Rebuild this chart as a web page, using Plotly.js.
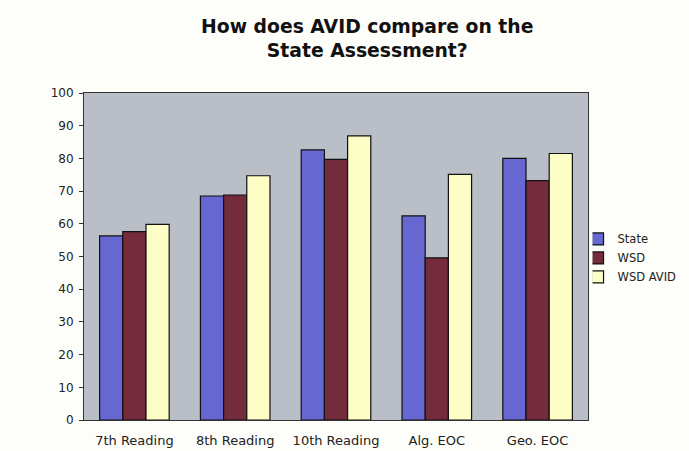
<!DOCTYPE html>
<html>
<head>
<meta charset="utf-8">
<script src="https://cdn.plot.ly/plotly-3.0.1.min.js"></script>
<style>html,body{margin:0;padding:0;background:#fdfdf9;}#chart{width:689px;height:451px;}</style>
</head>
<body>
<div id="chart"></div>
<script>
const categories = ["7th Reading", "8th Reading", "10th Reading", "Alg. EOC", "Geo. EOC"];
const stateValues = [56.3, 68.5, 82.6, 62.4, 80.0];
const wsdValues = [57.6, 68.8, 79.7, 49.6, 73.2];
const wsdAvidValues = [59.8, 74.7, 86.9, 75.1, 81.5];
const yTicks = [0, 10, 20, 30, 40, 50, 60, 70, 80, 90, 100];

const line = {color: '#111', width: 1.2};
const traces = [
  {type: 'bar', name: 'State', x: categories, y: stateValues, marker: {color: '#6767d2', line: line}},
  {type: 'bar', name: 'WSD', x: categories, y: wsdValues, marker: {color: '#742c3c', line: line}},
  {type: 'bar', name: 'WSD AVID', x: categories, y: wsdAvidValues, marker: {color: '#fdfdc6', line: line}}
];
const layout = {
  width: 689, height: 451,
  paper_bgcolor: '#fdfdf9', plot_bgcolor: '#b9bec7',
  margin: {l: 84, r: 101, t: 93, b: 31},
  font: {family: 'DejaVu Sans, Verdana, sans-serif', color: '#222', size: 11},
  title: {text: '<b>How does AVID compare on the<br>State Assessment?</b>', x: 0.533, xanchor: 'center', y: 0.927, yanchor: 'top', font: {size: 18.8, color: '#111'}},
  barmode: 'group', bargap: 0.31, bargroupgap: 0,
  showlegend: true,
  legend: {xref: 'container', yref: 'container', x: 0.86, xanchor: 'left', y: 0.428, yanchor: 'middle', bgcolor: 'rgba(0,0,0,0)', font: {size: 11.5, color: '#222'}, tracegroupgap: 0, itemwidth: 30, indentation: -15},
  xaxis: {showline: true, linecolor: '#333', linewidth: 1, mirror: true, ticks: '', tickfont: {size: 13}, ticklabelstandoff: 8},
  yaxis: {range: [0, 100], tickvals: yTicks, showgrid: false, zeroline: false, showline: true, linecolor: '#333', linewidth: 1, mirror: true, ticks: 'outside', ticklen: 4, tickcolor: '#333', tickfont: {size: 12}, ticklabelstandoff: 3}
};
Plotly.newPlot('chart', traces, layout, {displayModeBar: false, staticPlot: true});
</script>
</body>
</html>
